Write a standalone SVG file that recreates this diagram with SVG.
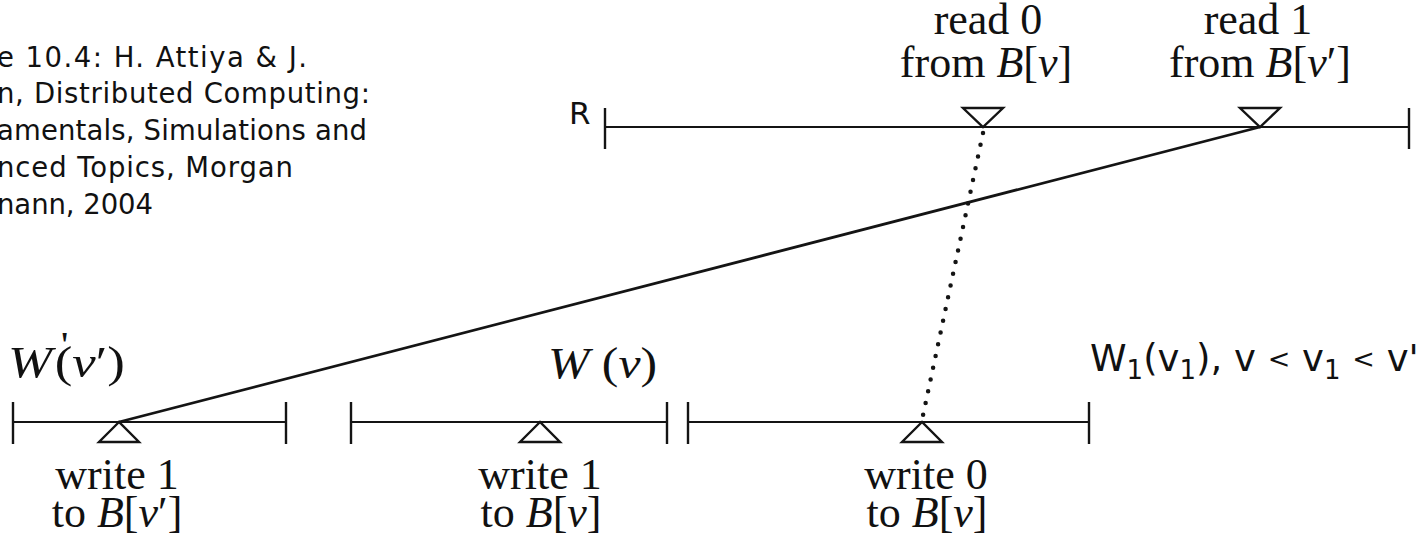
<svg xmlns="http://www.w3.org/2000/svg" width="1424" height="540" viewBox="0 0 1424 540">
<defs>
<style>
.ln{stroke:#141414;stroke-width:2.2;fill:none}
.tk{stroke:#141414;stroke-width:2.4;fill:none}
.tri{stroke:#141414;stroke-width:2.4;fill:#fff;stroke-linejoin:miter}
.serif{font-family:"Liberation Serif","Times New Roman",serif;fill:#111;font-size:44px}
.it{font-style:italic}
.sans{font-family:"DejaVu Sans","Noto Sans",sans-serif;fill:#111}
.cite{font-size:27.5px}
.conn{stroke:#141414;fill:none}
</style>
</defs>
<rect width="1424" height="540" fill="#fff"/>

<g id="citation" class="sans cite">
<text x="-3" y="67" textLength="310" lengthAdjust="spacing">e 10.4: H. Attiya &amp; J.</text>
<text x="-3" y="103" textLength="373" lengthAdjust="spacing">n, Distributed Computing:</text>
<text x="-3" y="140" textLength="370" lengthAdjust="spacing">amentals, Simulations and</text>
<text x="-3" y="177" textLength="296" lengthAdjust="spacing">nced Topics, Morgan</text>
<text x="-3" y="214" textLength="156" lengthAdjust="spacing">nann, 2004</text>
</g>

<g id="R">
<text class="sans" x="569" y="124" font-size="31">R</text>
<line class="ln" x1="605" y1="127" x2="1409" y2="127"/>
<line class="tk" x1="605" y1="108" x2="605" y2="149"/>
<line class="tk" x1="1409" y1="108" x2="1409" y2="149"/>
</g>

<g id="read0">
<polygon class="tri" points="963,108 1003,108 983,127"/>
<text class="serif" text-anchor="middle"><tspan x="988" y="34">read 0</tspan><tspan x="986" y="77">from <tspan class="it">B</tspan>[<tspan class="it">v</tspan>]</tspan></text>
</g>

<g id="read1">
<polygon class="tri" points="1240,108 1280,108 1260,127"/>
<text class="serif" text-anchor="middle"><tspan x="1258" y="34">read 1</tspan><tspan x="1260" y="77">from <tspan class="it">B</tspan>[<tspan class="it">v</tspan>′]</tspan></text>
</g>

<g id="Wprime">
<line class="ln" x1="13" y1="422" x2="286" y2="422"/>
<line class="tk" x1="13" y1="402" x2="13" y2="444"/>
<line class="tk" x1="286" y1="402" x2="286" y2="444"/>
<polygon class="tri" points="119,422 99,442 139,442"/>
<text class="serif" x="0" y="0" font-size="46" transform="translate(8 377) scale(1.2 1)"><tspan class="it">W</tspan><tspan x="44" y="-20" font-size="36">'</tspan><tspan x="39" y="0">(</tspan><tspan class="it">v</tspan>′)</text>
<text class="serif" text-anchor="middle"><tspan x="117" y="489">write 1</tspan><tspan x="117" y="527">to <tspan class="it">B</tspan>[<tspan class="it">v</tspan>′]</tspan></text>
</g>

<g id="W">
<line class="ln" x1="351" y1="422" x2="667" y2="422"/>
<line class="tk" x1="351" y1="402" x2="351" y2="444"/>
<line class="tk" x1="667" y1="402" x2="667" y2="444"/>
<polygon class="tri" points="540,422 520,442 560,442"/>
<text class="serif" x="0" y="0" font-size="46" transform="translate(548 378) scale(1.13 1)"><tspan class="it">W</tspan> (<tspan class="it">v</tspan>)</text>
<text class="serif" text-anchor="middle"><tspan x="540" y="489">write 1</tspan><tspan x="541" y="527">to <tspan class="it">B</tspan>[<tspan class="it">v</tspan>]</tspan></text>
</g>

<g id="W1">
<line class="ln" x1="688" y1="422" x2="1089" y2="422"/>
<line class="tk" x1="688" y1="402" x2="688" y2="444"/>
<line class="tk" x1="1089" y1="402" x2="1089" y2="444"/>
<polygon class="tri" points="922,422 902,442 942,442"/>
<text class="serif" text-anchor="middle"><tspan x="926" y="489">write 0</tspan><tspan x="927" y="527">to <tspan class="it">B</tspan>[<tspan class="it">v</tspan>]</tspan></text>
<text class="sans" x="1090" y="371" font-size="37">W<tspan font-size="26" dy="8">1</tspan><tspan dy="-8">(v</tspan><tspan font-size="26" dy="8">1</tspan><tspan dy="-8">), v </tspan><tspan font-size="27" dy="-3">&lt;</tspan><tspan dy="3"> v</tspan><tspan font-size="26" dy="8">1</tspan><tspan dy="-8"> </tspan><tspan font-size="27" dy="-3">&lt;</tspan><tspan dy="3"> v'</tspan></text>
</g>

<g id="connectors">
<line class="conn" x1="119" y1="422" x2="1260" y2="127" stroke-width="2.8"/>
<line class="conn" x1="983" y1="133" x2="922" y2="420" stroke-width="4.5" stroke-linecap="round" stroke-dasharray="0 12"/>
</g>
</svg>
